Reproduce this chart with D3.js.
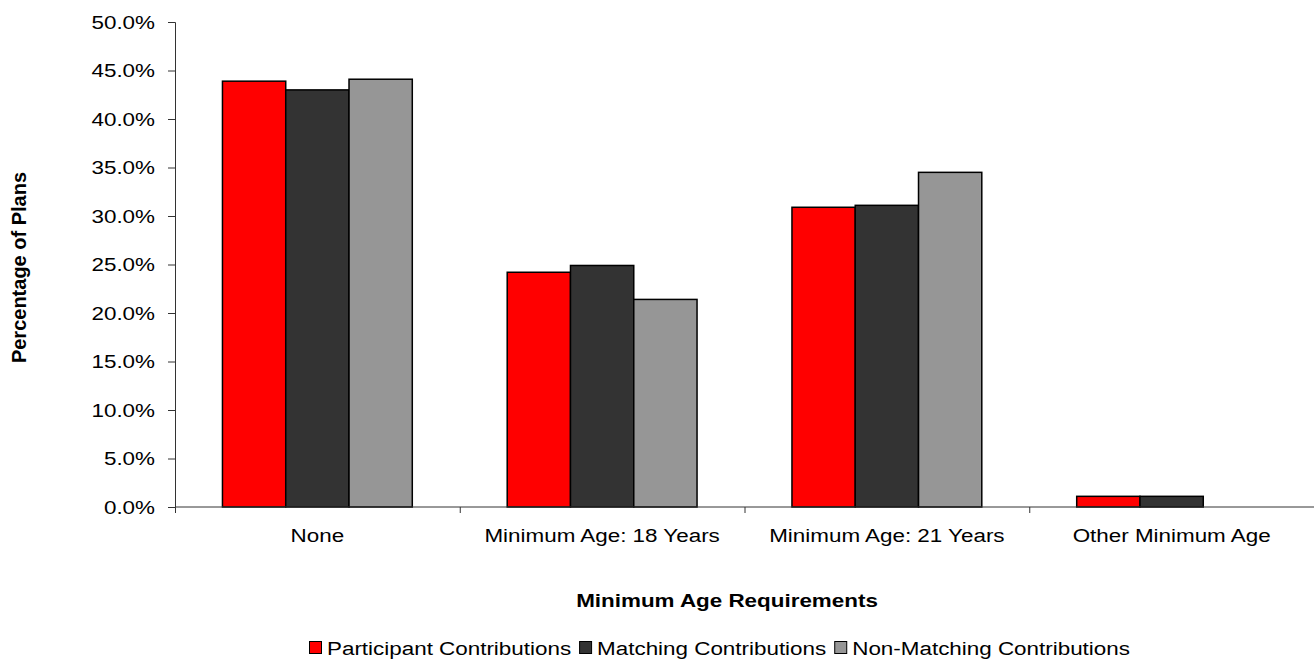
<!DOCTYPE html>
<html>
<head>
<meta charset="utf-8">
<script src="https://cdn.jsdelivr.net/npm/d3@7"></script>
<style>
  html, body { margin: 0; padding: 0; background: #fff; }
  svg { display: block; font-family: "Liberation Sans", Arial, sans-serif; }
</style>
</head>
<body>
<svg id="chart" width="1314" height="660"></svg>
<script>
// Minimum age requirement categories and the share of plans for each contribution type
const categories = ["None", "Minimum Age: 18 Years", "Minimum Age: 21 Years", "Other Minimum Age"];
const seriesNames = ["Participant Contributions", "Matching Contributions", "Non-Matching Contributions"];
const participant = [43.9, 24.2, 30.9, 1.1];
const matching = [43.0, 24.9, 31.1, 1.1];
const nonMatching = [44.1, 21.4, 34.5, 0.0];
const seriesColors = ["#ff0000", "#333333", "#969696"];
const yTicks = [0, 5, 10, 15, 20, 25, 30, 35, 40, 45, 50];

const seriesValues = [participant, matching, nonMatching];

// Text is drawn slightly wide (horizontal stretch) like the rest of the layout
const FS = 19, SX = 1.18;

const svg = d3.select("#chart");
const margin = { left: 175, right: 0, top: 22, bottom: 153 };
const W = 1314, H = 660;
const plotW = W - margin.left - margin.right;
const plotH = H - margin.top - margin.bottom;

function wideText(parent, x, y, str, anchor, opts = {}) {
  const t = parent.append("text")
    .attr("transform", `translate(${x},${y}) scale(${SX},1)`)
    .attr("text-anchor", anchor)
    .attr("font-size", opts.size || FS)
    .attr("font-weight", opts.weight || "normal")
    .attr("dy", opts.dy || null)
    .text(str);
  return t;
}

const g = svg.append("g").attr("transform", `translate(${margin.left},${margin.top})`);

const x0 = d3.scaleBand().domain(categories).range([0, plotW]).paddingInner(0).paddingOuter(0);
// Each group: three bars with three-quarter-bar gaps on both sides
const x1 = d3.scaleBand().domain(seriesNames).range([0, x0.bandwidth()]).paddingOuter(0.75).paddingInner(0);
const y = d3.scaleLinear().domain([0, 50]).range([plotH, 0]);

// Bars
const groups = g.selectAll("g.cat").data(categories).enter().append("g")
  .attr("class", "cat")
  .attr("transform", d => `translate(${x0(d)},0)`);

groups.selectAll("rect").data((c, i) => seriesNames.map((s, k) => ({ s, k, v: seriesValues[k][i] })))
  .enter().filter(d => d.v > 0).append("rect")
  .attr("x", d => x1(d.s))
  .attr("y", d => y(d.v))
  .attr("width", x1.bandwidth())
  .attr("height", d => y(0) - y(d.v))
  .attr("fill", d => seriesColors[d.k])
  .attr("stroke", "#000")
  .attr("stroke-width", 1.5);

// Y axis
const yAxis = d3.axisLeft(y).tickValues(yTicks).tickSize(7).tickFormat("");
const yg = g.append("g").call(yAxis);
yg.select(".domain").attr("stroke", "#333").attr("d", `M-7,0.5H0.5V${plotH}`);
yg.selectAll(".tick line").attr("stroke", "#333");
yTicks.forEach(v => wideText(g, -20, y(v), v.toFixed(1) + "%", "end", { dy: "0.35em" }));

// X axis baseline with ticks at category boundaries
const xg = g.append("g").attr("transform", `translate(0,${plotH})`);
xg.append("line").attr("x1", 0).attr("x2", plotW).attr("y1", 0).attr("y2", 0)
  .attr("stroke", "#333").attr("stroke-width", 1);
const boundaries = categories.map(c => x0(c)).concat([plotW]);
xg.selectAll("line.tk").data(boundaries).enter().append("line")
  .attr("class", "tk")
  .attr("x1", d => d + 0.5).attr("x2", d => d + 0.5)
  .attr("y1", 0).attr("y2", 6)
  .attr("stroke", "#333");
categories.forEach(c => wideText(xg, x0(c) + x0.bandwidth() / 2, 35, c, "middle"));

// Axis titles
wideText(svg, 727, 607, "Minimum Age Requirements", "middle", { weight: "bold" });

svg.append("text")
  .attr("transform", `translate(26,${margin.top + plotH / 2 + 3}) rotate(-90)`)
  .attr("text-anchor", "middle")
  .attr("font-size", 20)
  .attr("font-weight", "bold")
  .text("Percentage of Plans");

// Legend
const legend = svg.append("g").attr("transform", "translate(309,648)");
let lx = 0;
seriesNames.forEach((name, k) => {
  const item = legend.append("g").attr("transform", `translate(${lx},0)`);
  item.append("rect").attr("x", 0.5).attr("y", -6.5).attr("width", 12).attr("height", 12)
    .attr("fill", seriesColors[k]).attr("stroke", "#000").attr("stroke-width", 1);
  const t = wideText(item, 18, 0, name, "start", { dy: "0.35em" });
  lx += 18 + t.node().getComputedTextLength() * SX + 8;
});
</script>
</body>
</html>
